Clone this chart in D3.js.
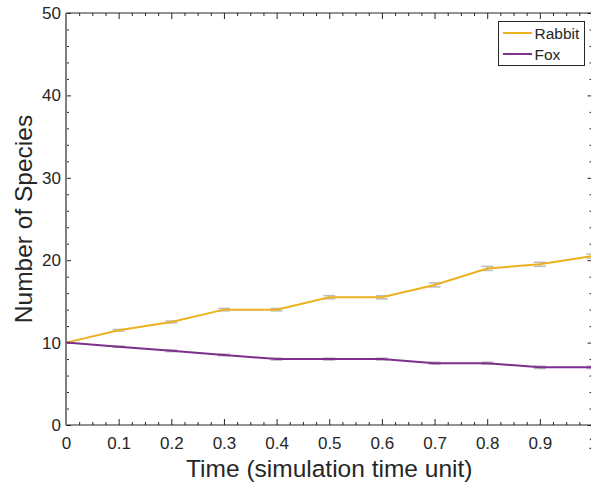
<!DOCTYPE html>
<html>
<head>
<meta charset="utf-8">
<script src="https://cdn.jsdelivr.net/npm/d3@7"></script>
<style>
  body { margin: 0; background: #fff; }
  svg text { font-family: "Liberation Sans", Arial, Helvetica, sans-serif; fill: #262626; }
</style>
</head>
<body>
<div id="chart"></div>
<script>
// values
const times = [0, 0.1, 0.2, 0.3, 0.4, 0.5, 0.6, 0.7, 0.8, 0.9, 1.0];
const rabbit = [10, 11.5, 12.5, 14, 14, 15.5, 15.5, 17, 19, 19.5, 20.5];
const rabbitErr = [0, 0.1, 0.12, 0.15, 0.15, 0.2, 0.2, 0.25, 0.25, 0.25, 0.25];
const fox = [10, 9.5, 9, 8.5, 8, 8, 8, 7.5, 7.5, 7, 7];
const foxErr = [0, 0.08, 0.1, 0.1, 0.12, 0.12, 0.12, 0.12, 0.12, 0.15, 0.15];
const xTicks = [0, 0.1, 0.2, 0.3, 0.4, 0.5, 0.6, 0.7, 0.8, 0.9, 1];
const yTicks = [0, 10, 20, 30, 40, 50];

const series = [
    { name: 'Rabbit', values: rabbit, err: rabbitErr, color: '#EDB120' },
    { name: 'Fox', values: fox, err: foxErr, color: '#7E2F8E' }
];

const width = 591, height = 483;
const plotLeft = 66, plotRight = 592.5, plotTop = 13, plotBottom = 425;

const svg = d3.select('#chart').append('svg')
    .attr('width', width)
    .attr('height', height);

const x = d3.scaleLinear().domain([0, 1]).range([plotLeft, plotRight]);
const y = d3.scaleLinear().domain([0, 50]).range([plotBottom, plotTop]);

const xMinor = d3.range(0, 1.0001, 0.025).filter(v => Math.abs(v * 10 - Math.round(v * 10)) > 1e-6);
const yMinor = d3.range(0, 50.001, 2).filter(v => v % 10 !== 0);

function styleAxis(g) {
    g.select('.domain').remove();
    g.selectAll('.tick line').attr('stroke', '#262626');
    g.selectAll('.tick text').attr('font-size', 17).attr('fill', '#262626');
}

// bottom
svg.append('g').attr('transform', `translate(0,${plotBottom})`)
    .call(d3.axisBottom(x).tickValues(xTicks).tickSize(-6).tickPadding(11.5)
        .tickFormat(d => d === 0 ? '0' : d === 1 ? '1' : d3.format('.1f')(d)))
    .call(styleAxis);
svg.append('g').attr('transform', `translate(0,${plotBottom})`)
    .call(d3.axisBottom(x).tickValues(xMinor).tickSize(-3).tickFormat(''))
    .call(styleAxis);
// top
svg.append('g').attr('transform', `translate(0,${plotTop})`)
    .call(d3.axisTop(x).tickValues(xTicks).tickSize(-6).tickFormat(''))
    .call(styleAxis);
svg.append('g').attr('transform', `translate(0,${plotTop})`)
    .call(d3.axisTop(x).tickValues(xMinor).tickSize(-3).tickFormat(''))
    .call(styleAxis);
// left
svg.append('g').attr('transform', `translate(${plotLeft},0)`)
    .call(d3.axisLeft(y).tickValues(yTicks).tickSize(-5).tickPadding(5))
    .call(styleAxis);
svg.append('g').attr('transform', `translate(${plotLeft},0)`)
    .call(d3.axisLeft(y).tickValues(yMinor).tickSize(-3).tickFormat(''))
    .call(styleAxis);
// right
svg.append('g').attr('transform', `translate(${plotRight},0)`)
    .call(d3.axisRight(y).tickValues(yTicks).tickSize(-5).tickFormat(''))
    .call(styleAxis);
svg.append('g').attr('transform', `translate(${plotRight},0)`)
    .call(d3.axisRight(y).tickValues(yMinor).tickSize(-3).tickFormat(''))
    .call(styleAxis);

// box
svg.append('line').attr('x1', plotLeft).attr('x2', plotRight).attr('y1', plotBottom).attr('y2', plotBottom)
    .attr('stroke', '#262626');
svg.append('line').attr('x1', plotLeft).attr('x2', plotRight).attr('y1', plotTop).attr('y2', plotTop)
    .attr('stroke', '#262626');
svg.append('line').attr('x1', plotLeft).attr('x2', plotLeft).attr('y1', plotTop).attr('y2', plotBottom)
    .attr('stroke', '#808080').attr('stroke-width', 2);

// error bars
series.forEach(s => {
    const g = svg.append('g').attr('stroke', '#bdbdbd').attr('stroke-width', 1.5);
    times.forEach((t, i) => {
        if (!s.err[i]) return;
        const cx = x(t), y1 = y(s.values[i] + s.err[i]), y2 = y(s.values[i] - s.err[i]);
        g.append('line').attr('x1', cx).attr('x2', cx).attr('y1', y1).attr('y2', y2);
        g.append('line').attr('x1', cx - 6).attr('x2', cx + 6).attr('y1', y1).attr('y2', y1);
        g.append('line').attr('x1', cx - 6).attr('x2', cx + 6).attr('y1', y2).attr('y2', y2);
    });
});

// lines
const line = d3.line().x((d, i) => x(times[i])).y(d => y(d));
series.forEach(s => {
    svg.append('path')
        .datum(s.values)
        .attr('fill', 'none')
        .attr('stroke', s.color)
        .attr('stroke-width', 2)
        .attr('d', line);
});

// legend
const legend = svg.append('g');
legend.append('rect')
    .attr('x', 498.5).attr('y', 21.5).attr('width', 86).attr('height', 44)
    .attr('fill', '#fff').attr('stroke', '#262626').attr('stroke-width', 1);
series.forEach((s, i) => {
    const ly = 33 + i * 21;
    legend.append('line').attr('x1', 503).attr('x2', 532).attr('y1', ly).attr('y2', ly)
        .attr('stroke', s.color).attr('stroke-width', 2);
    legend.append('text').attr('x', 534.5).attr('y', ly).attr('dy', '0.36em')
        .attr('font-size', 15.5).text(s.name);
});

// axis titles
svg.append('text')
    .attr('x', (plotLeft + plotRight) / 2).attr('y', 477)
    .attr('text-anchor', 'middle').attr('font-size', 24.5)
    .text('Time (simulation time unit)');
svg.append('text')
    .attr('transform', `translate(32,219) rotate(-90)`)
    .attr('text-anchor', 'middle').attr('font-size', 24.5)
    .text('Number of Species');
</script>
</body>
</html>
